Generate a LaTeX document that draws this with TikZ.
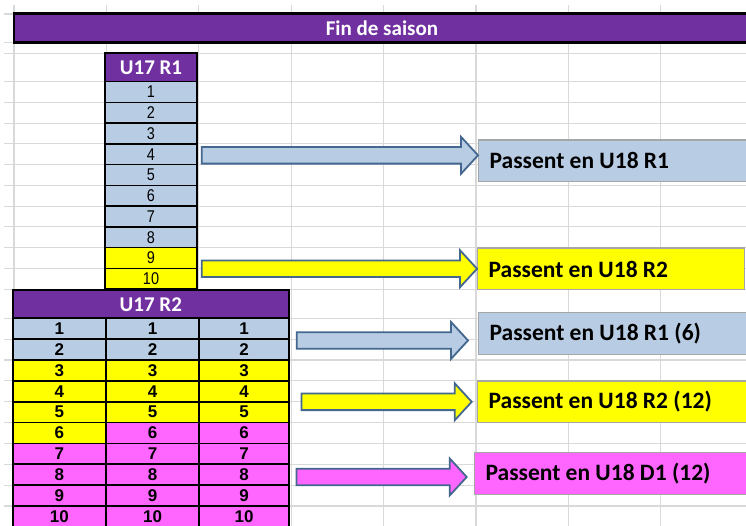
\documentclass[tikz,border=0pt]{standalone}
\usepackage{fontspec}
\setmainfont{Carlito}
\newfontfamily\numfont[FakeStretch=0.85]{Liberation Sans}
\newfontfamily\numfontb{Liberation Sans}
\usetikzlibrary{calc}
\definecolor{hdrpurple}{HTML}{7030A0}
\definecolor{paleblue}{HTML}{B8CCE4}
\definecolor{jaune}{HTML}{FFFF00}
\definecolor{rose}{HTML}{FF66FF}
\definecolor{arrowedge}{HTML}{44678F}
\definecolor{gridgray}{HTML}{D9D9D9}
\definecolor{boxedge}{HTML}{A6A6A6}
\tikzstyle{gridline} = [draw=gridgray, line width=1.1pt]
\tikzstyle{titlebar} = [draw=black, line width=2.5pt, fill=hdrpurple, text=white, inner sep=0pt, font=\bfseries\fontsize{21pt}{24pt}\selectfont]
\tikzstyle{header} = [draw=black, line width=1.8pt, fill=hdrpurple, text=white, inner sep=0pt, font=\bfseries\fontsize{21pt}{24pt}\selectfont]
\tikzstyle{cell} = [draw=black, line width=1.6pt, minimum height=20.75pt, inner sep=0pt, font=\numfont\fontsize{17pt}{17pt}\selectfont]
\tikzstyle{cellb} = [draw=black, line width=1.6pt, minimum height=20.85pt, inner sep=0pt, font=\numfontb\bfseries\fontsize{17pt}{17pt}\selectfont]
\tikzstyle{dest} = [anchor=west, draw=boxedge, line width=1.3pt, minimum height=41.7pt, inner xsep=11pt, font=\bfseries\fontsize{23.5pt}{26pt}\selectfont]
\tikzstyle{blockarrow} = [draw=arrowedge, line width=1.8pt, line join=miter]
% texte cale a gauche dans la case
\newcommand{\dlabel}[2][258pt]{\hbox to #1{#2\hfil}}
% fleche pleine : couleur, depart, noeud vise, ecart
\newcommand{\blockarrow}[4]{%
  \coordinate (ba-s) at #2;
  \coordinate (ba-t) at ($(#3 |- ba-s)+(-#4,0)$);
  \filldraw[blockarrow,fill=#1] ($(ba-s)+(0,-8.3)$) -- ($(ba-t)+(-17,-8.3)$) -- ($(ba-t)+(-17,-18.5)$) -- (ba-t)
    -- ($(ba-t)+(-17,18.5)$) -- ($(ba-t)+(-17,8.3)$) -- ($(ba-s)+(0,8.3)$) -- cycle;
}
\begin{document}
\begin{tikzpicture}[x=1pt,y=-1pt]
    \useasboundingbox (0,0) rectangle (746,526);
    \clip (0,0) rectangle (746,526);

    % grille du tableur
    \foreach \x in {14,106.4,198.8,291.2,383.6,476,568.4,660.8}
        \draw[gridline] (\x,5) -- (\x,526);
    \draw[gridline] (4,14) -- (746,14);
    \draw[gridline] (4,42.7) -- (746,42.7);
    \draw[gridline] (4,53.3) -- (746,53.3);
    \foreach \y in {81.7,102.45,...,290}
        \draw[gridline] (4,\y) -- (746,\y);
    \foreach \y in {318.3,339.15,...,530}
        \draw[gridline] (4,\y) -- (746,\y);

    \node[titlebar, minimum width=736pt, minimum height=29.4pt, anchor=west] (fin) at (12.7,28) {Fin de saison};

    % U17 R1
    \node[header, minimum width=92pt, minimum height=28.4pt] (r1h) at (151,67.5) {U17 R1};
    \foreach \i/\c in {1/paleblue,2/paleblue,3/paleblue,4/paleblue,5/paleblue,6/paleblue,7/paleblue,8/paleblue,9/jaune,10/jaune}
        \node[cell, fill=\c, minimum width=92pt] (r1-\i) at (151,{81.7+20.75*(\i-0.5)}) {\i};

    % U17 R2
    \node[header, minimum width=276.3pt, minimum height=28.3pt] (r2h) at (150.85,304.2) {U17 R2};
    \foreach \i/\ca/\cb in {1/paleblue/paleblue,2/paleblue/paleblue,3/jaune/jaune,4/jaune/jaune,5/jaune/jaune,
                            6/jaune/rose,7/rose/rose,8/rose/rose,9/rose/rose,10/rose/rose} {
        \node[cellb, fill=\ca, minimum width=93.3pt] (r2-\i-1) at (59.35,{318.3+20.85*(\i-0.5)}) {\i};
        \node[cellb, fill=\cb, minimum width=93pt] (r2-\i-2) at (152.5,{318.3+20.85*(\i-0.5)}) {\i};
        \node[cellb, fill=\cb, minimum width=90pt] (r2-\i-3) at (244,{318.3+20.85*(\i-0.5)}) {\i};
    }

    % destinations
    \node[dest, fill=paleblue] (box1) at (478,160.85) {\dlabel{Passent en U18 R1}};
    \node[dest, fill=jaune] (box2) at (477,269) {\dlabel[245pt]{Passent en U18 R2}};
    \node[dest, fill=paleblue] (box3) at (478,333.4) {\dlabel{Passent en U18 R1 (6)}};
    \node[dest, fill=jaune] (box4) at (477,401.8) {\dlabel{Passent en U18 R2 (12)}};
    \node[dest, fill=rose] (box5) at (474,473.4) {\dlabel{Passent en U18 D1 (12)}};

    \blockarrow{paleblue}{($(r1-4.east)+(4,1)$)}{box1.west}{0}
    \blockarrow{jaune}{($(r1-9.south east)+(4,-0.5)$)}{box2.west}{0}
    \blockarrow{paleblue}{($(r2-1-3.south east)+(7,0.5)$)}{box3.west}{10}
    \blockarrow{jaune}{($(r2-4-3.south east)+(11.7,-0.7)$)}{box4.west}{5.3}
    \blockarrow{rose}{($(r2-8-3.east)+(6.7,2.3)$)}{box5.west}{7.3}
\end{tikzpicture}
\end{document}
